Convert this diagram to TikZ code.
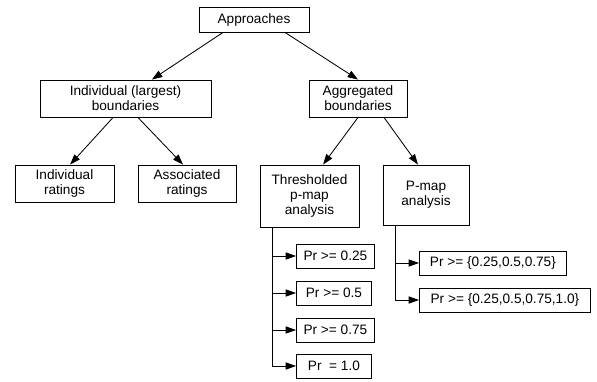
\documentclass[tikz,border=0pt]{standalone}
\usepackage{fontspec}
\setmainfont{Liberation Sans}
\usetikzlibrary{arrows.meta, positioning}

\begin{document}
\begin{tikzpicture}[
  bx/.style={rectangle,draw=black,line width=0.6pt,inner sep=0pt,align=center,minimum height=0.925cm,font=\fontsize{9.7}{10.7}\selectfont},
  prb/.style={bx,anchor=west,minimum height=0.6cm},
  arr/.style={-{Triangle[length=0.26cm,width=0.18cm]},line width=0.6pt,black}
]
  \useasboundingbox (0,0) rectangle (14.925,-9.525);
  \node[bx,minimum width=2.75cm,minimum height=0.625cm] (app) at (6.35,-0.4875) {Approaches};
  \node[bx,minimum width=4.275cm] (indl)  at (3.1375,-2.4625) {Individual (largest)\\boundaries};
  \node[bx,minimum width=2.45cm]  (agg)   at (8.95,-2.4625)   {Aggregated\\boundaries};
  \node[bx,minimum width=2.475cm] (indr)  at (1.6125,-4.5875) {Individual\\ratings};
  \node[bx,minimum width=2.45cm]  (assoc) at (4.675,-4.5875)  {Associated\\ratings};
  \node[bx,minimum width=2.475cm,minimum height=1.55cm] (thr) at (7.7375,-4.9) {Thresholded\\p-map\\analysis};
  \node[bx,minimum width=2.15cm,minimum height=1.5cm]   (pmap) at (10.65,-4.875) {P-map\\analysis};
  % thresholded levels
  \node[prb,minimum width=1.95cm]  (t1) at (7.4,-6.4)   {Pr >= 0.25};
  \node[prb,minimum width=1.875cm] (t2) at (7.4,-7.325) {Pr >= 0.5};
  \node[prb,minimum width=1.95cm]  (t3) at (7.4,-8.25)  {Pr >= 0.75};
  \node[prb,minimum width=1.875cm] (t4) at (7.4,-9.15)  {Pr\ \ = 1.0};
  % p-map sets
  \node[prb,minimum width=3.675cm] (p1) at (10.475,-6.575) {Pr >= \{0.25,0.5,0.75\}};
  \node[prb,minimum width=4.275cm] (p2) at (10.475,-7.5)   {Pr >= \{0.25,0.5,0.75,1.0\}};
  \draw[arr] ([xshift=-0.775cm]app.south) -- ([xshift=0.66cm]indl.north);
  \draw[arr] ([xshift=0.775cm]app.south) -- (agg.north);
  \draw[arr] ([xshift=-0.31cm]indl.south) -- ([xshift=0.14cm]indr.north);
  \draw[arr] ([xshift=0.31cm]indl.south) -- ([xshift=-0.1cm]assoc.north);
  \draw[arr] (agg.south) -- ([xshift=0.34cm]thr.north);
  \draw[arr] ([xshift=0.65cm]agg.south) -- ([xshift=-0.2cm]pmap.north);
  \draw[arr] ([xshift=-0.93cm]thr.south) |- (t1.west);
  \draw[arr] ([xshift=-0.93cm]thr.south) |- (t2.west);
  \draw[arr] ([xshift=-0.93cm]thr.south) |- (t3.west);
  \draw[arr] ([xshift=-0.93cm]thr.south) |- (t4.west);
  \draw[arr] ([xshift=-0.775cm]pmap.south) |- (p1.west);
  \draw[arr] ([xshift=-0.775cm]pmap.south) |- (p2.west);
\end{tikzpicture}
\end{document}
